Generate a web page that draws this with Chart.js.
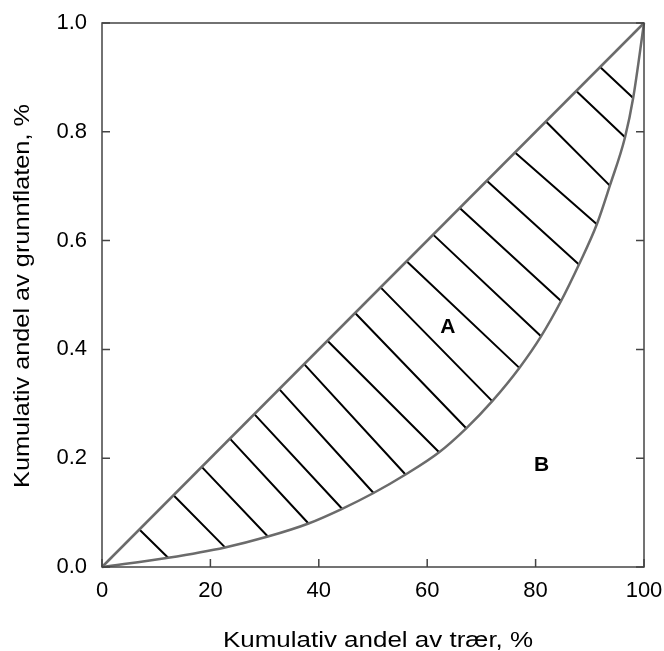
<!DOCTYPE html>
<html>
<head>
<meta charset="utf-8">
<script src="https://cdn.jsdelivr.net/npm/chart.js@4.4.1/dist/chart.umd.min.js"></script>
<style>
    html, body { margin: 0; padding: 0; background: #fff; }
    #wrap { width: 664px; height: 651px; }
</style>
</head>
<body>
<div id="wrap"><canvas id="myChart" width="664" height="651"></canvas></div>
<script>
// Lorenz curve
const curveX = [0, 12.2, 22.7, 30.6, 38.1, 44.3, 50.1, 56.0, 62.2, 67.2, 72.0, 77.0, 81.0, 84.7, 88.0, 91.3, 93.7, 96.5, 98.0, 100];
const curveY = [0, 0.017, 0.036, 0.056, 0.080, 0.107, 0.136, 0.170, 0.211, 0.255, 0.305, 0.366, 0.424, 0.489, 0.556, 0.630, 0.701, 0.790, 0.862, 1.0];
// hatch lines: start on the diagonal at these x values, end on curve point i+1
const hatchStart = [6.9, 13.2, 18.4, 23.6, 28.1, 32.7, 37.3, 41.6, 46.7, 51.4, 56.2, 61.1, 66.0, 71.0, 76.2, 81.9, 87.5, 91.9];
const xTicks = [0, 20, 40, 60, 80, 100];
const yTicks = [0, 0.2, 0.4, 0.6, 0.8, 1.0];
const areaLabels = ['A', 'B'];
const areaLabelX = [63.8, 81.1];
const areaLabelY = [0.441, 0.1875];
const xTitle = 'Kumulativ andel av trær, %';
const yTitle = 'Kumulativ andel av grunnflaten, %';

const FONT = "'Liberation Sans', Arial, sans-serif";

renderChart();

function noPad(s) {
    s.paddingLeft = 0;
    s.paddingRight = 0;
    s.paddingTop = 0;
    s.paddingBottom = 0;
}

function renderChart() {
    const curve = curveX.map(function (x, i) { return { x: x, y: curveY[i] }; });
    const hatch = [];
    hatchStart.forEach(function (d, i) {
        hatch.push({ x: d, y: d / 100 });
        hatch.push({ x: curveX[i + 1], y: curveY[i + 1] });
        hatch.push({ x: curveX[i + 1], y: null });
    });

    const frame = {
        id: 'frame',
        afterDatasetsDraw: function (chart) {
            const ctx = chart.ctx;
            const a = chart.chartArea;
            const xs = chart.scales.x;
            const ys = chart.scales.y;
            ctx.save();
            ctx.strokeStyle = '#444';
            ctx.lineWidth = 1.5;
            ctx.strokeRect(a.left, a.top, a.right - a.left, a.bottom - a.top);
            ctx.beginPath();
            xTicks.forEach(function (v) {
                const px = xs.getPixelForValue(v);
                ctx.moveTo(px, a.bottom);
                ctx.lineTo(px, a.bottom - 8);
            });
            yTicks.forEach(function (v) {
                const py = ys.getPixelForValue(v);
                ctx.moveTo(a.left, py);
                ctx.lineTo(a.left + 8, py);
                ctx.moveTo(a.right, py);
                ctx.lineTo(a.right - 8, py);
            });
            ctx.stroke();

            ctx.fillStyle = '#000';
            ctx.font = 'bold 21px ' + FONT;
            ctx.textAlign = 'center';
            ctx.textBaseline = 'middle';
            areaLabels.forEach(function (t, i) {
                ctx.fillText(t, xs.getPixelForValue(areaLabelX[i]), ys.getPixelForValue(areaLabelY[i]));
            });

            // axis titles, a bit wider than the font draws them
            ctx.font = '22px ' + FONT;
            ctx.textBaseline = 'alphabetic';
            ctx.save();
            ctx.translate(378, 647);
            ctx.scale(1.18, 1);
            ctx.fillText(xTitle, 0, 0);
            ctx.restore();
            ctx.save();
            ctx.translate(29, 296);
            ctx.rotate(-Math.PI / 2);
            ctx.scale(1.15, 1);
            ctx.fillText(yTitle, 0, 0);
            ctx.restore();
            ctx.restore();
        }
    };

    const config = {
        type: 'scatter',
        data: {
            datasets: [
                {
                    data: [{ x: 0, y: 0 }, { x: 100, y: 1 }],
                    showLine: true,
                    borderColor: '#6b6b6b',
                    borderWidth: 2.5,
                    pointRadius: 0,
                    clip: false
                },
                {
                    data: curve,
                    showLine: true,
                    borderColor: '#6b6b6b',
                    borderWidth: 2.5,
                    pointRadius: 0,
                    cubicInterpolationMode: 'monotone',
                    clip: false
                },
                {
                    data: hatch,
                    showLine: true,
                    spanGaps: false,
                    borderColor: '#000',
                    borderWidth: 2,
                    pointRadius: 0
                }
            ]
        },
        options: {
            responsive: false,
            animation: false,
            layout: { padding: { top: 23, right: 20, left: 0, bottom: 0 } },
            plugins: {
                legend: { display: false },
                tooltip: { enabled: false }
            },
            scales: {
                x: {
                    type: 'linear',
                    min: 0,
                    max: 100,
                    afterBuildTicks: function (s) { s.ticks = xTicks.map(function (v) { return { value: v }; }); },
                    afterFit: function (s) { s.height = 84; noPad(s); },
                    grid: { display: false, drawTicks: false },
                    border: { display: false },
                    ticks: { color: '#000', padding: 11, maxRotation: 0, font: { family: FONT, size: 22 } }
                },
                y: {
                    type: 'linear',
                    min: 0,
                    max: 1,
                    afterBuildTicks: function (s) { s.ticks = yTicks.map(function (v) { return { value: v }; }); },
                    afterFit: function (s) { s.width = 102; noPad(s); },
                    grid: { display: false, drawTicks: false },
                    border: { display: false },
                    ticks: {
                        color: '#000',
                        padding: 15,
                        font: { family: FONT, size: 22 },
                        callback: function (v) { return v.toFixed(1); }
                    }
                }
            }
        },
        plugins: [frame]
    };

    var myChart = new Chart(document.getElementById('myChart'), config);
}
</script>
</body>
</html>
